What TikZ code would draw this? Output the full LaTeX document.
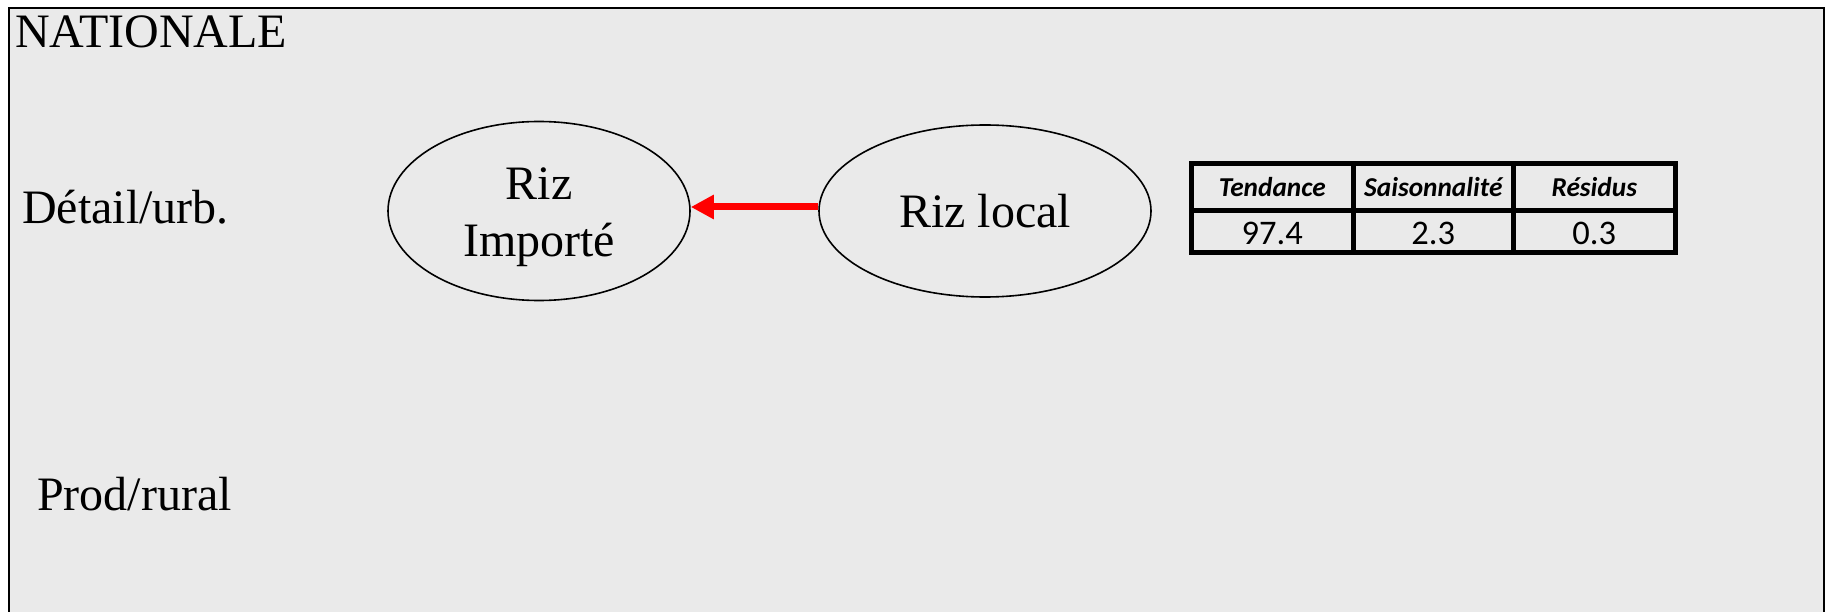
\documentclass[tikz,border=0pt]{standalone}
\usepackage{fontspec}
\setmainfont{Liberation Serif}
\newfontfamily\calfont{Carlito}
\usetikzlibrary{shapes.geometric,arrows.meta}
\definecolor{bg}{HTML}{EAEAEA}
\definecolor{arrred}{HTML}{FF0000}
\begin{document}
\begin{tikzpicture}[x=1pt,y=-1pt,
  lab/.style={inner sep=0pt, font=\fontsize{48}{57}\selectfont},
  oval/.style={ellipse, draw=black, line width=1.6pt, inner sep=0pt, align=center,
    font=\fontsize{48}{57}\selectfont},
  cell/.style={draw=black, line width=4.6pt, inner sep=0pt, anchor=north west},
  hcell/.style={cell, minimum height=47pt, text height=19pt, text depth=0pt,
    font=\calfont\bfseries\itshape\fontsize{27.3}{30}\selectfont},
  vcell/.style={cell, minimum height=42pt, text height=26pt, text depth=0pt,
    font=\calfont\fontsize{34.5}{40}\selectfont},
  flow/.style={draw=arrred, line width=7pt, -{Triangle[length=23pt,width=23pt]}, arrred}
]
\useasboundingbox (0,0) rectangle (1827,612);
\clip (0,0) rectangle (1827,612);
\fill[white] (0,0) rectangle (1827,612);
\draw[line width=2.5pt, fill=bg] (9,8) rectangle (1824,650);

\node[lab, anchor=base west] (nat) at (15,48) {NATIONALE};
\node[lab, anchor=base west] (det) at (22,224) {Détail/urb.};
\node[lab, anchor=base west] (prod) at (37,510) {Prod/rural};

\node[oval, minimum width=302pt, minimum height=179pt] (imp) at (539,211) {\rule{0pt}{44pt}Riz\\Importé};
\node[oval, minimum width=332pt, minimum height=172pt] (loc) at (985,211) {Riz local};

\draw[flow] ([yshift=4pt]loc.west) -- ([yshift=4pt]imp.east);

\node[hcell, minimum width=162pt] (h1) at (1189,161) {Tendance};
\node[hcell, minimum width=160pt] (h2) at (1351,161) {Saisonnalité};
\node[hcell, minimum width=162pt] (h3) at (1511,161) {Résidus};
\node[vcell, minimum width=162pt] (v1) at (1189,208) {97.4};
\node[vcell, minimum width=160pt] (v2) at (1351,208) {2.3};
\node[vcell, minimum width=162pt] (v3) at (1511,208) {0.3};
\end{tikzpicture}
\end{document}
